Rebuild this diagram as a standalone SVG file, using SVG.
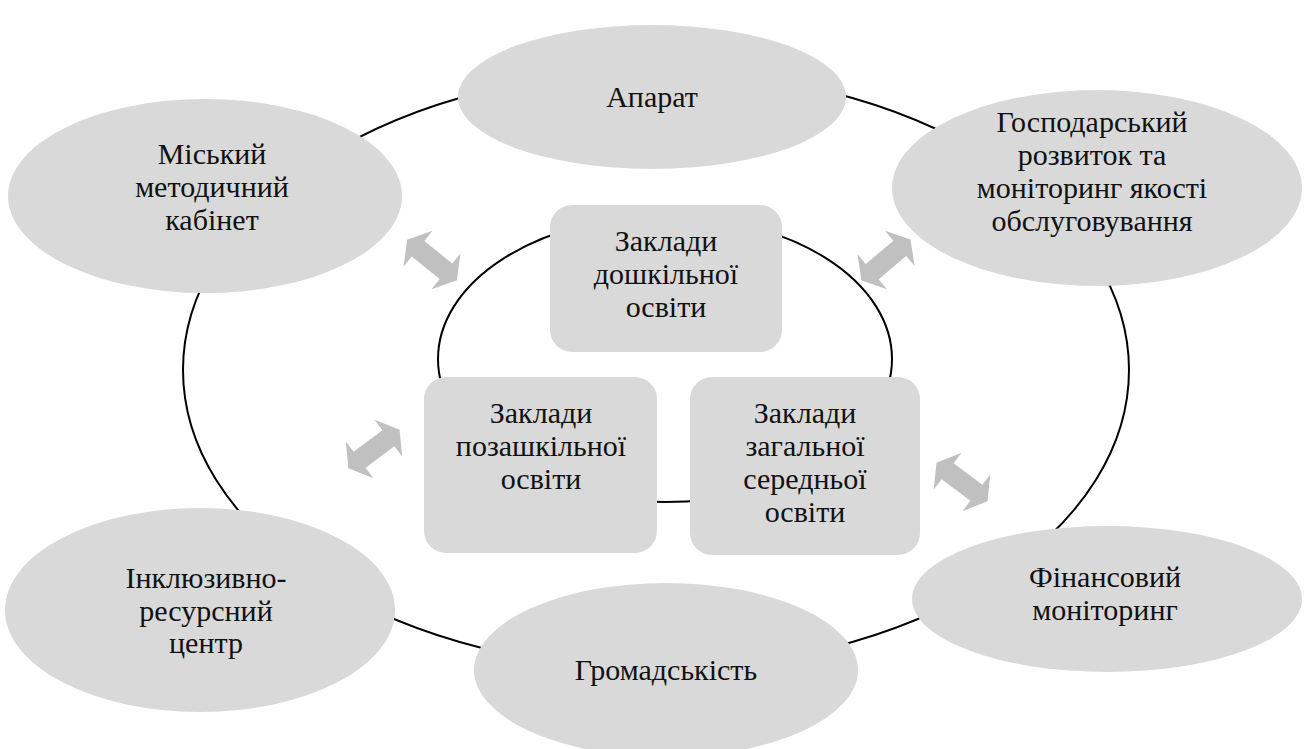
<svg xmlns="http://www.w3.org/2000/svg" width="1305" height="749" viewBox="0 0 1305 749">
<style>
.n{fill:#d9d9d9;stroke:none}
.t{font-family:"Liberation Serif","Times New Roman",serif;font-size:30px;fill:#111;text-anchor:middle}
.c{fill:none;stroke:#000;stroke-width:2}
.a{fill:#c0c0c0;stroke:none}
</style>
<defs>
<path id="dbl" d="M-32,0 L-18,-23 L-18,-10 L18,-10 L18,-23 L32,0 L18,23 L18,10 L-18,10 L-18,23 Z"/>
</defs>
<rect width="1305" height="749" fill="#fff"/>
<g id="connectors">
<ellipse class="c" cx="656" cy="370" rx="473" ry="299"/>
<ellipse class="c" cx="665" cy="359" rx="227" ry="143"/>
<use href="#dbl" class="a" transform="translate(432,260) rotate(39)"/>
<use href="#dbl" class="a" transform="translate(886,260) rotate(-40)"/>
<use href="#dbl" class="a" transform="translate(374,449) rotate(-37)"/>
<use href="#dbl" class="a" transform="translate(962,482) rotate(37)"/>
</g>
<g id="aparat">
<ellipse class="n" cx="652" cy="97" rx="194" ry="72"/>
<text class="t" x="652" y="107">Апарат</text>
</g>
<g id="miskyi">
<ellipse class="n" cx="205" cy="196" rx="197" ry="97"/>
<text class="t" x="212" y="164">Міський</text>
<text class="t" x="212" y="197">методичний</text>
<text class="t" x="212" y="230">кабінет</text>
</g>
<g id="hospodarskyi">
<ellipse class="n" cx="1097" cy="188" rx="205" ry="98"/>
<text class="t" x="1092" y="132">Господарський</text>
<text class="t" x="1092" y="165">розвиток та</text>
<text class="t" x="1092" y="198">моніторинг якості</text>
<text class="t" x="1092" y="231">обслуговування</text>
</g>
<g id="inkliuzyvno">
<ellipse class="n" cx="200" cy="610" rx="195" ry="102"/>
<text class="t" x="206" y="588">Інклюзивно-</text>
<text class="t" x="206" y="621">ресурсний</text>
<text class="t" x="206" y="653">центр</text>
</g>
<g id="hromadskist">
<ellipse class="n" cx="666" cy="670" rx="192" ry="87"/>
<text class="t" x="666" y="680">Громадськість</text>
</g>
<g id="finansovyi">
<ellipse class="n" cx="1107" cy="599" rx="195" ry="73"/>
<text class="t" x="1105" y="587">Фінансовий</text>
<text class="t" x="1105" y="620">моніторинг</text>
</g>
<g id="doshkilnoi">
<rect class="n" x="550" y="205" width="232" height="147" rx="22"/>
<text class="t" x="666" y="251">Заклади</text>
<text class="t" x="666" y="284">дошкільної</text>
<text class="t" x="666" y="317">освіти</text>
</g>
<g id="pozashkilnoi">
<rect class="n" x="424" y="377" width="233" height="176" rx="22"/>
<text class="t" x="541" y="423">Заклади</text>
<text class="t" x="541" y="456">позашкільної</text>
<text class="t" x="541" y="489">освіти</text>
</g>
<g id="zahalnoi">
<rect class="n" x="690" y="377" width="230" height="178" rx="22"/>
<text class="t" x="805" y="423">Заклади</text>
<text class="t" x="805" y="456">загальної</text>
<text class="t" x="805" y="489">середньої</text>
<text class="t" x="805" y="522">освіти</text>
</g>
</svg>
